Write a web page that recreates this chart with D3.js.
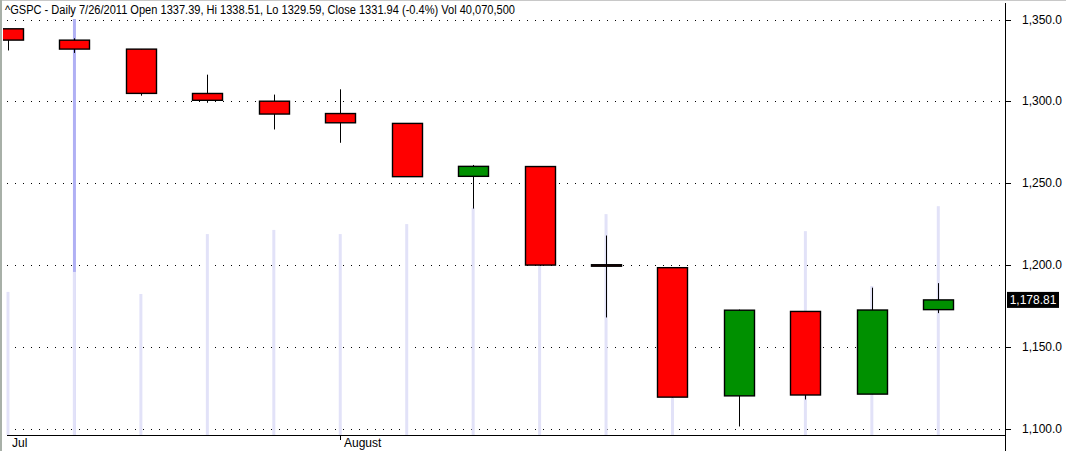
<!DOCTYPE html>
<html>
<head>
<meta charset="utf-8">
<script src="https://cdn.jsdelivr.net/npm/d3@7/dist/d3.min.js"></script>
<style>
  html, body { margin: 0; padding: 0; background: #fff; }
  svg { display: block; }
  text { font-family: "Liberation Sans", Arial, sans-serif; }
</style>
</head>
<body>
<svg id="chart" width="1066" height="451"></svg>
<script>
// ---- data ----
const dates  = ["2011-07-25","2011-07-26","2011-07-27","2011-07-28","2011-07-29",
                "2011-08-01","2011-08-02","2011-08-03","2011-08-04","2011-08-05",
                "2011-08-08","2011-08-09","2011-08-10","2011-08-11","2011-08-12"];
const opens  = [1344.32,1337.39,1331.91,1304.84,1300.12,1292.59,1286.56,1254.25,1260.23,1200.28,1198.48,1120.23,1171.77,1121.30,1172.87];
const highs  = [1344.32,1338.51,1331.91,1316.32,1304.16,1307.38,1286.56,1261.20,1260.23,1218.11,1198.48,1172.88,1171.77,1186.29,1189.04];
const lows   = [1331.09,1329.59,1303.49,1299.16,1282.86,1274.73,1254.03,1234.56,1199.54,1168.09,1119.28,1101.54,1118.01,1121.30,1170.74];
const closes = [1337.43,1331.94,1304.89,1300.67,1292.28,1286.94,1254.05,1260.34,1200.07,1199.38,1119.46,1172.53,1120.76,1172.64,1178.81];
const volumes = [34.4,39.2,33.9,48.3,49.3,48.3,50.7,54.6,48.0,53.1,32.5,0,49.0,35.8,55.0];
const yTicks = [1100,1150,1200,1250,1300,1350];
const monthLabels = [{label:"Jul", idx:0}, {label:"August", idx:5}];
const title = "^GSPC - Daily 7/26/2011 Open 1337.39, Hi 1338.51, Lo 1329.59, Close 1331.94 (-0.4%) Vol 40,070,500";
const selectedIdx = 1;
const lastPrice = closes[closes.length-1];

// ---- layout ----
const W = 1066, H = 451;
const plotL = 3, plotR = 1005, plotT = 19, plotB = 435;
const svg = d3.select("#chart");

svg.append("rect").attr("x",0).attr("y",0).attr("width",W).attr("height",H).attr("fill","#fff");
// window borders
svg.append("line").attr("x1",0).attr("x2",W).attr("y1",0.5).attr("y2",0.5).attr("stroke","#c8c8c8");
svg.append("line").attr("x1",1).attr("x2",1).attr("y1",0).attr("y2",H).attr("stroke","#a8b0a8").attr("stroke-width",2);

const x = d3.scaleLinear().domain([0, 15]).range([8, 8 + 66.45*15]);
const y = d3.scaleLinear().domain([1100, 1350]).range([429, 19.5]);
const yv = d3.scaleLinear().domain([0, 100]).range([plotB, plotB - 416]);

const defs = svg.append("defs");
defs.append("clipPath").attr("id","clip").append("rect")
  .attr("x",plotL).attr("y",plotT-3).attr("width",plotR-plotL).attr("height",plotB-plotT+3);

const g = svg.append("g").attr("clip-path","url(#clip)");

// grid lines
g.selectAll("line.grid").data(yTicks).join("line")
  .attr("class","grid")
  .attr("x1",plotL+4).attr("x2",plotR)
  .attr("y1",d=>Math.round(y(d))+0.5).attr("y2",d=>Math.round(y(d))+0.5)
  .attr("stroke","#000").attr("stroke-width",1).attr("stroke-dasharray","1,7");

// cursor line
g.append("line")
  .attr("x1",x(selectedIdx)).attr("x2",x(selectedIdx))
  .attr("y1",plotT).attr("y2",plotB)
  .attr("stroke","#b0b0f4").attr("stroke-width",3);

// volume bars
g.selectAll("line.vol").data(volumes).join("line")
  .attr("class","vol")
  .attr("x1",(d,i)=>x(i)).attr("x2",(d,i)=>x(i))
  .attr("y1",d=>yv(d)).attr("y2",plotB)
  .attr("stroke","#e2e2f8").attr("stroke-width",3)
  .attr("display",d=>d>0?null:"none");

// wicks
const idx = d3.range(dates.length);
g.selectAll("line.wick").data(idx).join("line")
  .attr("class","wick")
  .attr("x1",i=>Math.round(x(i))+0.5).attr("x2",i=>Math.round(x(i))+0.5)
  .attr("y1",i=>y(highs[i])).attr("y2",i=>y(lows[i]))
  .attr("stroke","#000").attr("stroke-width",1);

// bodies
const bw = 30;
g.selectAll("rect.body").data(idx).join("rect")
  .attr("class","body")
  .attr("x",i=>Math.round(x(i)-bw/2)+0.5)
  .attr("width",bw)
  .attr("y",i=>y(Math.max(opens[i],closes[i])))
  .attr("height",i=>Math.max(1, Math.abs(y(opens[i])-y(closes[i]))))
  .attr("fill",i=>closes[i]>=opens[i]?"#009000":"#ff0000")
  .attr("stroke","#000").attr("stroke-width",1.4);

// right axis
const ya = svg.append("g").attr("transform",`translate(${plotR},0)`);
ya.append("line").attr("x1",0.5).attr("x2",0.5).attr("y1",3).attr("y2",H).attr("stroke","#000");
ya.selectAll("line.tk").data(yTicks).join("line")
  .attr("x1",0).attr("x2",6)
  .attr("y1",d=>Math.round(y(d))+0.5).attr("y2",d=>Math.round(y(d))+0.5)
  .attr("stroke","#000");
const fmt = d3.format(",.1f");
ya.selectAll("text.tl").data(yTicks).join("text")
  .attr("x",57).attr("y",d=>y(d)+4)
  .attr("text-anchor","end").attr("font-size",12).attr("fill","#000")
  .text(d=>fmt(d));

// last price box
const lp = ya.append("g").attr("transform",`translate(2,${y(lastPrice)})`);
lp.append("rect").attr("x",0).attr("y",-8).attr("width",52).attr("height",16).attr("fill","#000");
lp.append("text").attr("x",26).attr("y",4.5).attr("text-anchor","middle")
  .attr("font-size",12).attr("fill","#fff").text(d3.format(",.2f")(lastPrice));

// bottom axis
svg.append("line").attr("x1",plotL+4).attr("x2",plotR).attr("y1",plotB+0.5).attr("y2",plotB+0.5).attr("stroke","#000");
monthLabels.forEach(m=>{
  const px = m.idx===0 ? 12 : Math.round(x(m.idx));
  if (m.idx!==0) {
    svg.append("line").attr("x1",px+0.5).attr("x2",px+0.5).attr("y1",plotB).attr("y2",plotB+5).attr("stroke","#000");
  }
  svg.append("text").attr("x",m.idx===0?px:px+4).attr("y",plotB+12)
    .attr("font-size",12).attr("fill","#000").text(m.label);
});

// title
svg.append("text").attr("x",5).attr("y",14).attr("font-size",12).attr("fill","#000")
  .attr("textLength",510).attr("lengthAdjust","spacingAndGlyphs").text(title);
</script>
</body>
</html>
